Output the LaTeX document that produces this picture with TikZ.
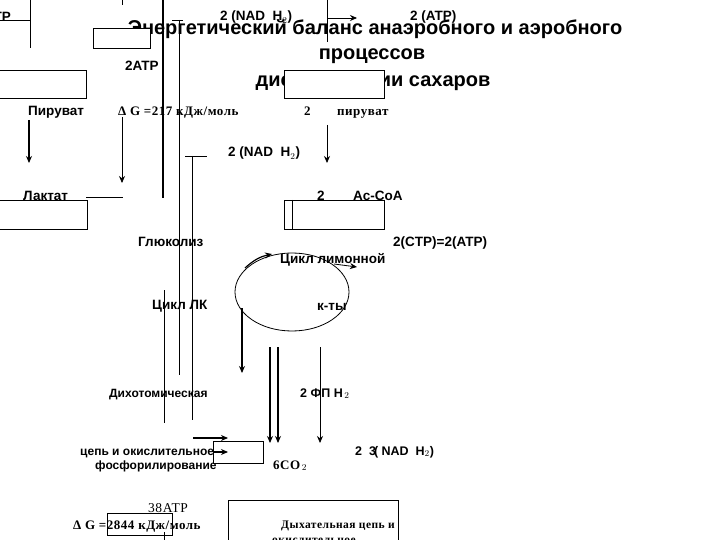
\documentclass[tikz,border=0pt]{standalone}
\usepackage{fontspec}
\setmainfont{Liberation Sans}
\newfontfamily\serifru{Liberation Serif}[LetterSpace=4]
\usetikzlibrary{arrows.meta}
\tikzset{
  lbl/.style={inner sep=0pt, anchor=base west, font=\bfseries\fontsize{13.5}{15}\selectfont},
  slbl/.style={inner sep=0pt, anchor=base west, font=\serifru\bfseries\fontsize{13}{15}\selectfont},
  ttl/.style={inner sep=0pt, anchor=base, font=\bfseries\fontsize{20}{24}\selectfont},
  wbox/.style={draw, fill=white, line width=0.8pt},
  ln/.style={line width=0.8pt},
  thk/.style={line width=2pt},
  arr/.style={-{Stealth[length=7pt,width=6pt]}},
}
\begin{document}
\begin{tikzpicture}[x=1pt,y=-1pt]
\useasboundingbox (0,0) rectangle (720,540);
% ---- texts ----
\node[lbl, anchor=base east] (atp0) at (11,22) {ATP};
\node[lbl] (nad1) at (220,21) {2 (NAD\ \ H$_2$)};
\node[lbl] (atp1) at (410,21) {2 (ATP)};
\node[ttl] (t1) at (375,35) {Энергетический баланс анаэробного и аэробного};
\node[ttl] (t2) at (372,60) {процессов};
\node[ttl] (t3) at (373,87) {диссимиляции сахаров};
\node[lbl] (atp2) at (125,71) {2ATP};
\node[lbl] (pyr) at (28,116) {Пируват};
\node[slbl] (dg1) at (118,116) {Δ G =217 кДж/моль};
\node[slbl] (two1) at (304,116) {2};
\node[slbl] (pyr2) at (337,116) {пируват};
\node[lbl] (nad2) at (228,157) {2 (NAD\ \ H$_2$)};
\node[lbl] (two2) at (317,201) {2};
\node[lbl] (acoa) at (353,201) {Ac-CoA};
\node[lbl] (lact) at (23,201) {Лактат};
\node[lbl] (glyc) at (138,247) {Глюколиз};
\node[lbl] (ctp) at (393,246) {2(CTP)=2(ATP)};
\node[lbl] (cycl) at (280,263) {Цикл лимонной};
\node[lbl] (lk) at (152,309) {Цикл ЛК};
\node[lbl] (kty) at (317,310) {к-ты};
\node[lbl, font=\bfseries\fontsize{12}{14}\selectfont] (dich) at (109,397) {Дихотомическая};
\node[lbl, font=\bfseries\fontsize{12.5}{14}\selectfont] (fp) at (300,397) {2 ФП Н$_{\,2}$};
\node[lbl, font=\bfseries\fontsize{12}{14}\selectfont] (ox1) at (80,455) {цепь и окислительное};
\node[lbl, font=\bfseries\fontsize{12}{14}\selectfont] (ox2) at (95,469) {фосфорилирование};
\node[slbl] (co2) at (273,469) {6CO$_{\,2}$};
\node[lbl, font=\bfseries\fontsize{12.5}{14}\selectfont] (nad3) at (355,455) {2\ \ 3\kern-2pt( NAD\ \ H$_2$)};
\node[slbl, font=\serifru\fontsize{13.5}{15}\selectfont] (atp38) at (148,512) {38ATP};
\node[slbl] (dg2) at (73,529) {Δ G =2844 кДж/моль};
% ---- boxes ----
\draw[wbox] (93,28) rectangle (150,48);
\draw[wbox] (-1,70) rectangle (86,98);
\draw[wbox] (284,70) rectangle (384,98);
\draw[wbox] (-1,200) rectangle (87,229);
\draw[wbox] (284,200) rectangle (384,229);
\draw[ln] (292,200) -- (292,229);
\draw[wbox] (213,441) rectangle (263,463);
\draw[ln] (107,513) rectangle (172,535);
\draw[wbox] (228,500) rectangle (398,548);
\node[slbl, font=\serifru\bfseries\fontsize{11.5}{13}\selectfont] (resp1) at (281,528) {Дыхательная цепь и};
\node[slbl, font=\serifru\bfseries\fontsize{11.5}{13}\selectfont] (resp2) at (272,543) {окислительное};
% ---- lines ----
\coordinate (a0) at (0,20); \coordinate (a1) at (30,20);
\draw[ln] (a0) -- (a1);
\draw[ln] (30,0) -- (30,48);
\draw[ln] (122,0) -- (122,5);
\draw[line width=2.5pt] (163,0) -- (163,198);
\draw[ln] (172,20) -- (183,20);
\draw[ln] (179,20) -- (179,375);
\draw[ln] (185,156) -- (207,156);
\draw[ln] (192,156) -- (192,420);
\draw[ln] (164,290) -- (164,423);
\draw[ln] (164,532) -- (164,540);
\draw[ln] (327,0) -- (327,42);
\draw[ln, arr] (327,18) -- (357,18);
\draw[ln, arr] (327,125) -- (327,163);
\draw[thk, arr] (29,120) -- (29,163);
\draw[ln, arr] (122,117) -- (122,183);
\draw[ln] (86,197) -- (123,197);
% cycle
\draw[ln] (292,292) ellipse [x radius=57, y radius=39];
\draw[line width=1.2pt, arr] (245,268) to[bend left=15] (272,254);
\draw[ln, arr] (334,264) -- (357,267);
\draw[thk, arr] (242,308) -- (242,373);
\draw[thk, arr] (270,347) -- (270,443);
\draw[thk, arr] (278,347) -- (278,443);
\draw[ln, arr] (320,347) -- (320,443);
\draw[thk, arr] (193,438) -- (228,438);
\draw[thk, arr] (213,452) -- (228,452);
\end{tikzpicture}
\end{document}
